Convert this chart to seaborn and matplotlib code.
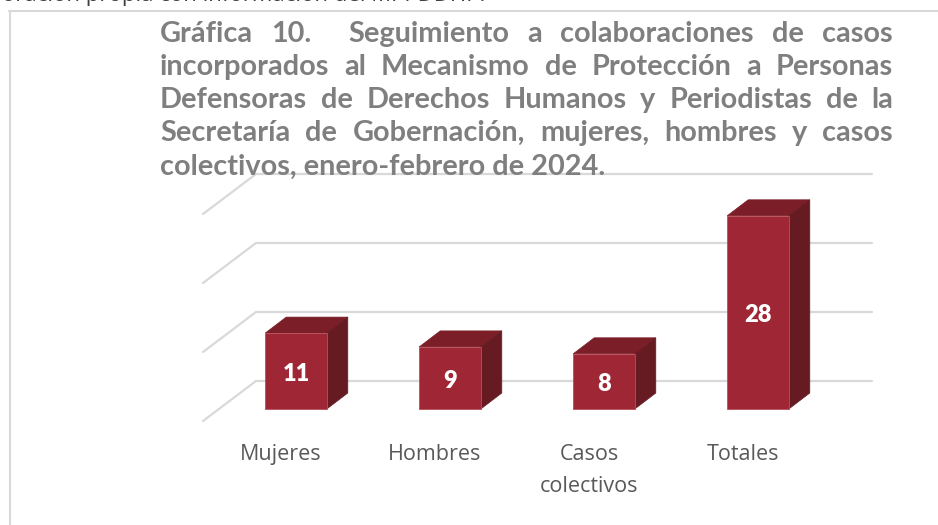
import numpy as np
import pandas as pd
import matplotlib
matplotlib.use("Agg")
import matplotlib.pyplot as plt
import seaborn as sns
from matplotlib.patches import Polygon
from matplotlib.lines import Line2D

# ---------------- data ----------------
categories = ["Mujeres", "Hombres", "Casos\ncolectivos", "Totales"]
values = [11, 9, 8, 28]
grid_values = [0, 10, 20, 30]
title_lines = [
    "Gráfica 10.  Seguimiento a colaboraciones de casos",
    "incorporados al Mecanismo de Protección a Personas",
    "Defensoras de Derechos Humanos y Periodistas de la",
    "Secretaría de Gobernación, mujeres, hombres y casos",
    "colectivos, enero-febrero de 2024.",
]
source_text = "Elaboración propia con información del MPPDDHP."

# ---------------- style ----------------
W, H, DPI = 938, 525, 100
FRONT = "#9e2635"
TOP = "#7b1e28"
SIDE = "#661b22"
GRID = "#d9d9d9"
TITLE_C = "#7f7f7f"
LABEL_C = "#595959"

sns.set_theme(style="white")
plt.rcParams["font.family"] = ["Lato", "DejaVu Sans"]

fig = plt.figure(figsize=(W / DPI, H / DPI), dpi=DPI)
fig.patch.set_facecolor("white")

# plot area (front plane of the bars) in pixel geometry
ax_l, ax_r, ax_t, ax_b = 219, 835, 202, 409
ax = fig.add_axes([ax_l / W, 1 - ax_b / H, (ax_r - ax_l) / W, (ax_b - ax_t) / H])

df = pd.DataFrame({"cat": categories, "val": values})
sns.barplot(data=df, x="cat", y="val", color=FRONT, saturation=1, width=0.4,
            edgecolor="#b8505c", linewidth=0.6, ax=ax, zorder=3)
ax.set_xlim(-0.5, len(categories) - 0.5)
ax.set_ylim(0, 30)
ax.set_axis_off()

sx = (ax_r - ax_l) / (len(categories))   # px per category
sy = (ax_b - ax_t) / 30.0                # px per unit

# depth offsets (px -> data)
bdx, bdy = 21 / sx, 16 / sy     # bar depth
wdx, wdy = 37 / sx, 28 / sy     # back wall
fdx, fdy = -16 / sx, -12 / sy   # front floor edge

x_lo, x_hi = -0.5, len(categories) - 0.5

# gridlines: back wall + left side wall
for v in grid_values:
    ax.add_line(Line2D([x_lo + wdx, x_hi + wdx], [v + wdy, v + wdy], color=GRID,
                       lw=1.6, zorder=1, clip_on=False))
    ax.add_line(Line2D([x_lo + fdx, x_lo + wdx], [v + fdy, v + wdy], color=GRID,
                       lw=1.6, zorder=1, clip_on=False))

# 3D faces of bars
for p in list(ax.patches):
    x0, w, h = p.get_x(), p.get_width(), p.get_height()
    top = Polygon([(x0, h), (x0 + w, h), (x0 + w + bdx, h + bdy), (x0 + bdx, h + bdy)],
                  closed=True, facecolor=TOP, edgecolor=TOP, lw=0.5, zorder=2.9, clip_on=False)
    side = Polygon([(x0 + w, 0), (x0 + w, h), (x0 + w + bdx, h + bdy), (x0 + w + bdx, bdy)],
                   closed=True, facecolor=SIDE, edgecolor=SIDE, lw=0.5, zorder=2.9, clip_on=False)
    ax.add_patch(top)
    ax.add_patch(side)
    p.set_clip_on(False)

# value labels
for i, v in enumerate(values):
    ax.text(i, v / 2 - 3 / sy, str(v), ha="center", va="center", color="white",
            fontsize=17, fontweight="heavy", family=["Lato", "DejaVu Sans"], zorder=5)

# category labels
for i, cat in enumerate(categories):
    for k, line in enumerate(cat.split("\n")):
        ax.text(i - 15 / sx, (ax_b - (460 + 32 * k)) / sy, line,
                ha="center", va="baseline", color=LABEL_C, fontsize=15.5,
                family=["Open Sans", "DejaVu Sans"], clip_on=False)

# border lines
fig.add_artist(Line2D([9.5 / W, 9.5 / W], [0, 1 - 10.5 / H], color=GRID, lw=1.5,
                      transform=fig.transFigure))
fig.add_artist(Line2D([9 / W, 1], [1 - 10.5 / H, 1 - 10.5 / H], color=GRID, lw=1.5,
                      transform=fig.transFigure))

renderer = fig.canvas.get_renderer()

# source text (cut off at the top edge of the image, as in the original)
probe = fig.text(0, 0, "Elab", fontsize=16, family=["Open Sans", "DejaVu Sans"])
wprobe = probe.get_window_extent(renderer).width
probe.remove()
fig.text((-wprobe + 2) / W, 1 - 0.5 / H, source_text, fontsize=16, color="#404040",
         family=["Open Sans", "DejaVu Sans"], va="baseline", ha="left")

# title: auto-fit font size to the last line width, then justify lines
t_left, t_right = 160, 893
target_last = 445
probe = fig.text(0, 0, title_lines[-1], fontsize=20, fontweight="bold")
wl = probe.get_window_extent(renderer).width
probe.remove()
tfs = 20 * target_last / wl
baselines = [42, 75, 108, 141, 175]

for li, (line, yb) in enumerate(zip(title_lines, baselines)):
    yfig = 1 - yb / H
    if li == len(title_lines) - 1:
        fig.text(t_left / W, yfig, line, fontsize=tfs, fontweight="bold",
                 color=TITLE_C, va="baseline", ha="left")
        continue
    words = line.split(" ")
    texts = []
    widths = []
    for wd in words:
        t = fig.text(0, yfig, wd, fontsize=tfs, fontweight="bold", color=TITLE_C,
                     va="baseline", ha="left")
        texts.append(t)
        widths.append(t.get_window_extent(renderer).width if wd else 0.0)
    gap = (t_right - t_left - sum(widths)) / (len(words) - 1)
    x = t_left
    for t, wdt in zip(texts, widths):
        t.set_x(x / W)
        x += wdt + gap

fig.savefig("out.png", dpi=DPI)
